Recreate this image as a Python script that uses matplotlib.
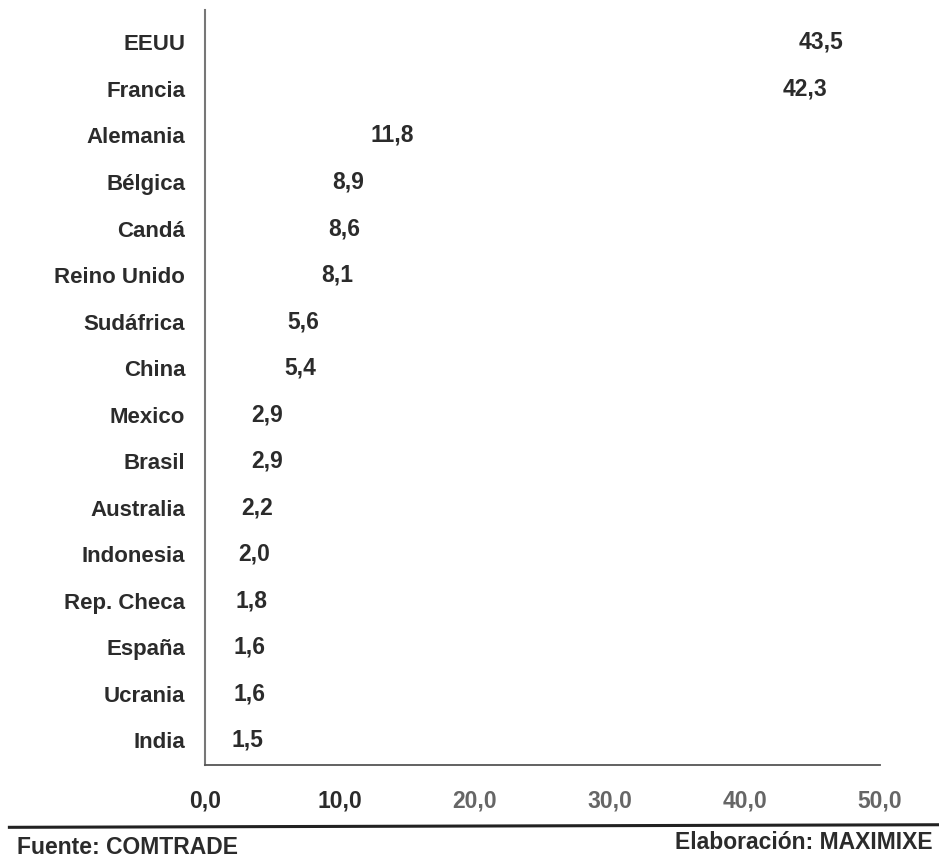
import matplotlib.pyplot as plt
from matplotlib.lines import Line2D

# Países de destino y participación (%)
paises = ["EEUU", "Francia", "Alemania", "Bélgica", "Candá", "Reino Unido",
          "Sudáfrica", "China", "Mexico", "Brasil", "Australia", "Indonesia",
          "Rep. Checa", "España", "Ucrania", "India"]
valores = [43.5, 42.3, 11.8, 8.9, 8.6, 8.1, 5.6, 5.4, 2.9, 2.9, 2.2, 2.0,
           1.8, 1.6, 1.6, 1.5]
ticks_x = [0, 10, 20, 30, 40, 50]

plt.rcParams['font.family'] = ['Liberation Sans', 'DejaVu Sans']
texto = '#2b2b2b'

fig = plt.figure(figsize=(9.39, 8.6), dpi=100)
ax = fig.add_axes([0.218, 0.110, 0.719, 0.878])

pos = list(range(len(paises)))
barras = ax.barh(pos, valores, height=0.6, color='white')
etiquetas = [f"{v:.1f}".replace('.', ',') for v in valores]
ax.bar_label(barras, labels=etiquetas, padding=5, fontsize=16.5,
             fontweight='bold', color=texto)

ax.set_xlim(0, 50)
ax.set_ylim(15.54, -0.69)
ax.set_yticks(pos)
ax.set_yticklabels(paises, fontsize=16, fontweight='bold', color=texto)
ax.set_xticks(ticks_x)
ax.set_xticklabels([f"{t:.1f}".replace('.', ',') for t in ticks_x],
                   fontsize=16.5, fontweight='bold')
for i, lab in enumerate(ax.get_xticklabels()):
    lab.set_color(texto if i < 2 else '#666666')
ax.tick_params(axis='both', length=0)
ax.tick_params(axis='x', pad=17)
ax.tick_params(axis='y', pad=14)

for s in ['top', 'right']:
    ax.spines[s].set_visible(False)
ax.spines['left'].set_color('#777777')
ax.spines['left'].set_linewidth(1.5)
ax.spines['bottom'].set_color('#555555')
ax.spines['bottom'].set_linewidth(1.3)

# Línea del pie y fuentes
fig.add_artist(Line2D([0.01, 1.0], [0.038, 0.041], color='#222222',
                      linewidth=2.2, transform=fig.transFigure))
fig.text(0.018, 0.015, "Fuente: COMTRADE", fontsize=16.5, fontweight='bold',
         color=texto, va='center', ha='left')
fig.text(0.993, 0.020, "Elaboración: MAXIMIXE", fontsize=16.5,
         fontweight='bold', color=texto, va='center', ha='right')

fig.savefig("out.png", dpi=100, facecolor='white')
